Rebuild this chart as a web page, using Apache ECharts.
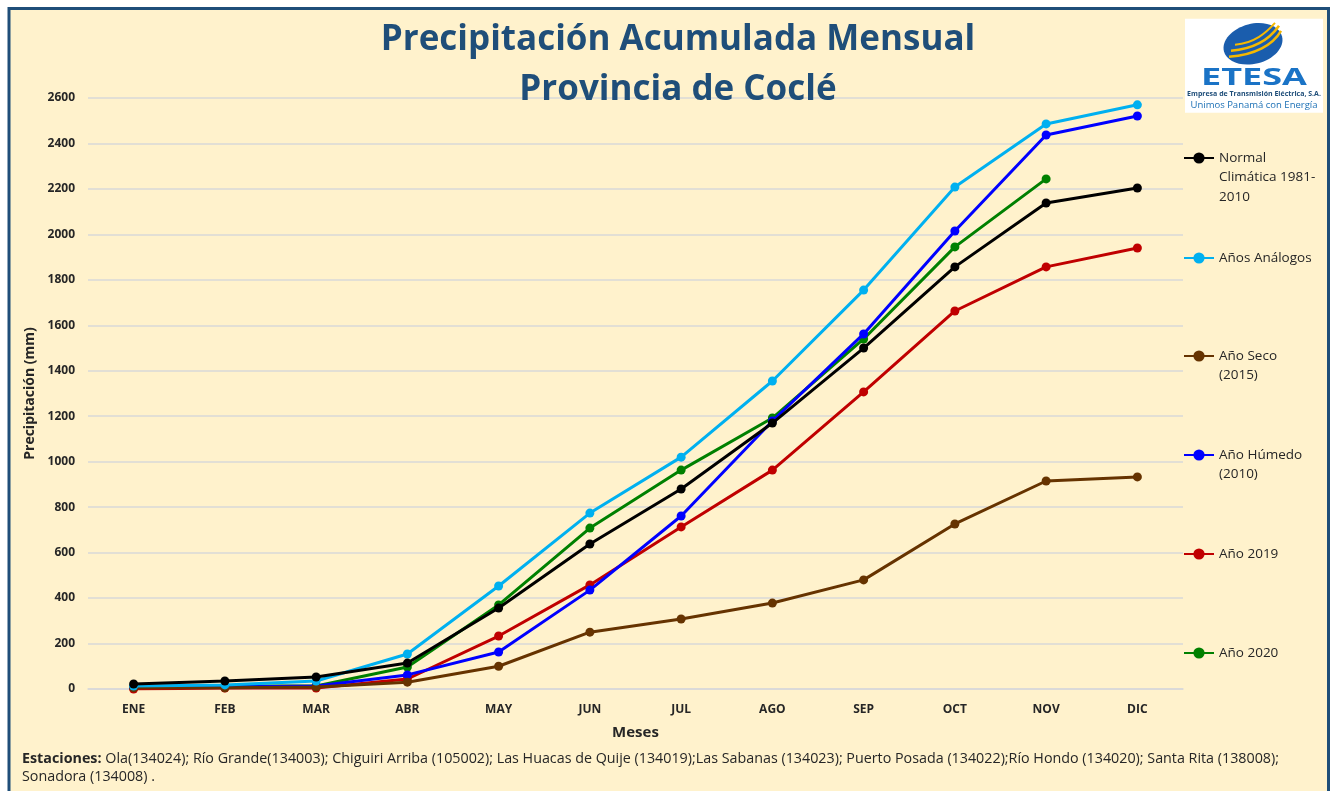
<!DOCTYPE html>
<html>
<head>
<meta charset="utf-8">
<title>Precipitación Acumulada Mensual - Coclé</title>
<script src="https://cdn.jsdelivr.net/npm/echarts@6/dist/echarts.min.js"></script>
<style>
  html, body { margin: 0; padding: 0; background: #ffffff; }
  #main { width: 1331px; height: 791px; }
</style>
</head>
<body>
<div id="main"></div>
<script>
// datos (mm acumulados)
var meses = ['ENE', 'FEB', 'MAR', 'ABR', 'MAY', 'JUN', 'JUL', 'AGO', 'SEP', 'OCT', 'NOV', 'DIC'];
var normal = [22, 35, 53, 114, 356, 638, 880, 1170, 1500, 1857, 2138, 2204];
var analogos = [13, 18, 35, 154, 453, 774, 1020, 1355, 1755, 2208, 2486, 2570];
var seco2015 = [5, 5, 9, 30, 100, 250, 308, 378, 480, 726, 915, 933];
var humedo2010 = [9, 9, 13, 62, 163, 435, 761, 1179, 1562, 2015, 2437, 2521];
var anio2019 = [0, 4, 4, 44, 233, 458, 713, 963, 1307, 1663, 1857, 1940];
var anio2020 = [9, 13, 13, 97, 370, 708, 963, 1192, 1540, 1945, 2244, null];

var nombres = ['Normal\nClimática 1981-\n2010', 'Años Análogos', 'Año Seco\n(2015)', 'Año Húmedo\n(2010)', 'Año 2019', 'Año 2020'];
var colores = ['#000000', '#00B0F0', '#663300', '#0000FF', '#C00000', '#008000'];
var valores = [normal, analogos, seco2015, humedo2010, anio2019, anio2020];
var legendaY = [158, 258, 356, 455, 554, 653];

var fuente = '"Open Sans", "Noto Sans", sans-serif';
var lh = 19.5;

var myChart = echarts.init(document.getElementById('main'));

var series = [];
var legends = [];
for (var i = 0; i < nombres.length; i++) {
  series.push({
    name: nombres[i],
    type: 'line',
    data: valores[i],
    symbol: 'circle',
    symbolSize: 9,
    lineStyle: { width: 3, color: colores[i] },
    itemStyle: { color: colores[i] },
    z: 10 - i
  });
  var n = nombres[i].split('\n').length;
  legends.push({
    data: [nombres[i]],
    left: 1183,
    top: legendaY[i] - (2 * n - 1) * lh / 2,
    padding: 0,
    itemWidth: 30,
    itemHeight: 14,
    selectedMode: false,
    // lineas vacias arriba para que la primera linea quede junto al icono
    formatter: function (name) {
      var k = name.split('\n').length;
      var pre = '';
      for (var j = 1; j < k; j++) pre += ' \n';
      return pre + name;
    },
    textStyle: {
      fontFamily: fuente,
      fontSize: 13.5,
      color: '#262626',
      lineHeight: lh
    }
  });
}

var option = {
  backgroundColor: '#ffffff',
  animation: false,
  title: {
    text: 'Precipitación Acumulada Mensual\nProvincia de Coclé',
    left: 678,
    textAlign: 'center',
    top: 10,
    padding: [5, 0, 5, 0],
    textStyle: {
      fontFamily: fuente,
      fontSize: 35,
      fontWeight: 'bold',
      color: '#1F4E79',
      lineHeight: 50
    }
  },
  legend: legends,
  grid: { left: 88, right: 148, top: 98, bottom: 102 },
  xAxis: {
    type: 'category',
    data: meses,
    boundaryGap: true,
    name: 'Meses',
    nameLocation: 'middle',
    nameGap: 36,
    nameTextStyle: { fontFamily: fuente, fontSize: 15, fontWeight: 'bold', color: '#262626' },
    axisLine: { show: true, lineStyle: { color: '#D9D9D9', width: 1.5 } },
    axisTick: { show: false },
    axisLabel: { fontFamily: fuente, fontSize: 12, fontWeight: 'bold', color: '#262626', margin: 15 }
  },
  yAxis: {
    type: 'value',
    min: 0,
    max: 2600,
    interval: 200,
    name: 'Precipitación (mm)',
    nameLocation: 'middle',
    nameGap: 46,
    nameTextStyle: { fontFamily: fuente, fontSize: 14, fontWeight: 'bold', color: '#262626' },
    axisLine: { show: false },
    axisTick: { show: false },
    axisLabel: {
      fontFamily: fuente, fontSize: 12, fontWeight: 'bold', color: '#262626', margin: 13,
      formatter: function (v) { return String(v); }
    },
    splitLine: { lineStyle: { color: '#D9D9D9', width: 1.5 } }
  },
  graphic: [
    // marco
    {
      type: 'rect', z: -10, silent: true,
      shape: { x: 9, y: 8.5, width: 1319.5, height: 800 },
      style: { fill: '#FFF2CC', stroke: '#1F4E79', lineWidth: 3 }
    },
    // logo ETESA
    {
      type: 'group', left: 1185, top: 17, silent: true,
      children: [
        { type: 'rect', shape: { x: 0, y: 0, width: 138, height: 94 }, style: { fill: '#ffffff' } },
        { type: 'ellipse', shape: { cx: 68, cy: 25, rx: 30, ry: 20 }, rotation: 0.25, originX: 68, originY: 25, style: { fill: '#1A5DAD' } },
        { type: 'bezierCurve', shape: { x1: 44, y1: 38, x2: 96, y2: 12, cpx1: 70, cpy1: 36, cpx2: 88, cpy2: 26 }, style: { stroke: '#F5B800', lineWidth: 2.5, fill: 'none' } },
        { type: 'bezierCurve', shape: { x1: 46, y1: 32, x2: 94, y2: 7, cpx1: 70, cpy1: 30, cpx2: 85, cpy2: 20 }, style: { stroke: '#F5B800', lineWidth: 2.5, fill: 'none' } },
        { type: 'bezierCurve', shape: { x1: 50, y1: 26, x2: 90, y2: 4, cpx1: 70, cpy1: 24, cpx2: 81, cpy2: 14 }, style: { stroke: '#F5B800', lineWidth: 2, fill: 'none' } },
        { type: 'text', x: 69, y: 59, scaleX: 1.5, originX: 0, originY: 0, style: { text: 'ETESA', font: 'bold 24px ' + fuente, fill: '#1A73C6', align: 'center', verticalAlign: 'middle' } },
        { type: 'text', x: 69, y: 75, style: { text: 'Empresa de Transmisión Eléctrica, S.A.', font: 'bold 7px ' + fuente, fill: '#1F4E79', align: 'center', verticalAlign: 'middle' } },
        { type: 'text', x: 69, y: 86, style: { text: 'Unimos Panamá con Energía', font: '9.5px ' + fuente, fill: '#1A6FB5', align: 'center', verticalAlign: 'middle' } }
      ]
    },
    // estaciones
    {
      type: 'text', left: 22, top: 750, silent: true,
      style: {
        text: '{b|Estaciones:} Ola(134024); Río Grande(134003); Chiguiri Arriba (105002); Las Huacas de Quije (134019);Las Sabanas (134023); Puerto Posada (134022);Río Hondo (134020); Santa Rita (138008);\nSonadora (134008) .',
        font: '14.3px ' + fuente,
        fill: '#262626',
        lineHeight: 18,
        rich: {
          b: { fontWeight: 'bold', fontFamily: fuente, fontSize: 14.3, fill: '#262626' }
        }
      }
    }
  ],
  series: series
};

myChart.setOption(option);
</script>
</body>
</html>
